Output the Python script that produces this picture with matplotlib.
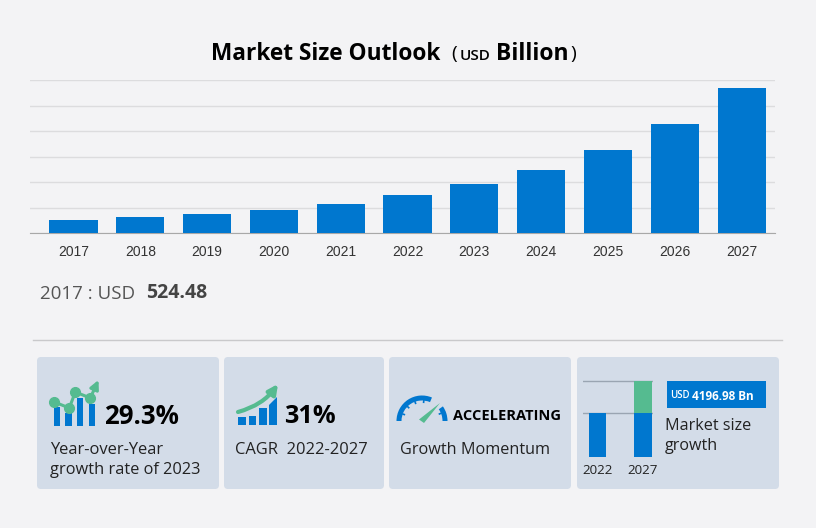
import math
import matplotlib
matplotlib.use("Agg")
import matplotlib.pyplot as plt
from matplotlib.patches import FancyBboxPatch, FancyArrowPatch, Wedge, Polygon

# chart data
years = [2017, 2018, 2019, 2020, 2021, 2022, 2023, 2024, 2025, 2026, 2027]
market_size = [524.48, 615, 733, 902, 1150, 1478, 1911, 2483, 3255, 4275, 5675]

# small chart in the last card (schematic, not to scale with the main one)
mini_years = ["2022", "2027"]
mini_base = [44, 44]
mini_growth = [0, 32]

# icon data
yoy_icon_bars = [19, 13, 28, 22]
yoy_icon_line = [24, 18, 34, 28]
cagr_icon_bars = [7.7, 9.5, 16.7, 20]
gauge_ticks = [200, 225, 250, 275, 338]

W, H = 816, 528
BG = "#f3f3f5"
CARD = "#d3dce8"
BLUE = "#0077cf"
GREEN = "#55bb90"
SANS = "Open Sans"
LABEL = "#222222"

fig = plt.figure(figsize=(W / 100, H / 100), dpi=100, facecolor=BG)


def px_axes(x0, y0, x1, y1, **kw):
    """Axes placed by pixel box, y counted from the top of the image."""
    return fig.add_axes([x0 / W, 1 - y1 / H, (x1 - x0) / W, (y1 - y0) / H], **kw)


# overlay in pixel coordinates for cards, text and icon shapes
ov = px_axes(0, 0, W, H, zorder=0)
ov.set_xlim(0, W)
ov.set_ylim(H, 0)
ov.axis("off")

# main chart
ax = px_axes(30, 80.2, 775, 233.0, zorder=1)
ax.patch.set_alpha(0)
ax.bar(range(len(years)), market_size, width=0.72, color=BLUE, zorder=3)
ax.set_xlim(-0.651, 10.50)
ax.set_ylim(0, 6000)
ax.set_yticks(range(0, 7000, 1000))
ax.set_xticks(range(len(years)))
ax.set_xticklabels(years, fontsize=10, family="Liberation Sans", color="#333333")
ax.tick_params(axis="y", left=False, labelleft=False)
ax.tick_params(axis="x", bottom=False, pad=5)
ax.grid(axis="y", color="#dcdcde", lw=1, zorder=1)
for side in ["top", "left", "right"]:
    ax.spines[side].set_visible(False)
ax.spines["bottom"].set_color("#a8a8a8")

# title
ov.text(211, 53.5, "Market Size Outlook", fontsize=16.3, fontweight="bold", family=SANS,
        color="black", va="center", ha="left")
ov.text(451, 53.5, "(", fontsize=14, family=SANS, color="black", va="center")
ov.text(460, 56, "USD", fontsize=11, family=SANS, fontweight="semibold", color="black", va="center")
ov.text(496, 53.5, "Billion", fontsize=16.5, fontweight="bold", family=SANS, color="black", va="center")
ov.text(570, 53.5, ")", fontsize=14, family=SANS, color="black", va="center")

# first-year readout
ov.text(40, 294, "2017 : USD", fontsize=13.5, family=SANS, color="#555555", va="center")
ov.text(146, 293, "524.48", fontsize=14, fontweight="bold", family=SANS, color="#444444", va="center")
ov.plot([33, 782], [340, 340], color="#c9c9cb", lw=1)

# cards
for x0, x1 in [(37, 219), (224, 384), (389, 571), (577, 779)]:
    ov.add_patch(FancyBboxPatch((x0 + 4, 361), x1 - x0 - 8, 124,
                                boxstyle="round,pad=4,rounding_size=4", fc=CARD, ec="none"))

# card 1
for left, h in zip([54, 65.5, 77, 89], yoy_icon_bars):
    ov.bar(left + 3, h, width=6.5, bottom=426 - h, color=BLUE, zorder=2)
line_x = [54.3, 69.3, 75.3, 90.3]
line_y = [426 - v for v in yoy_icon_line]
ov.plot(line_x, line_y, color=GREEN, lw=2.2, marker="o", ms=7, zorder=3)
ov.add_patch(FancyArrowPatch((line_x[-1], line_y[-1]), (98.5, 380), arrowstyle="-|>",
                             mutation_scale=13, color=GREEN, lw=2.2, shrinkA=0, shrinkB=0, zorder=3))
ov.text(104, 416.5, "29.3%", fontsize=18.6, fontweight="bold", family=SANS, color="black", va="center")
ov.text(50, 450, "Year-over-Year", fontsize=11.9, family=SANS, color=LABEL, va="center")
ov.text(50, 470, "growth rate of 2023", fontsize=11.8, family=SANS, color=LABEL, va="center")

# card 2
for left, h in zip([238, 248.5, 259, 269], cagr_icon_bars):
    ov.bar(left + 3.75, h, width=7.5, bottom=425 - h, color=BLUE, zorder=2)
ov.add_patch(Polygon([(269, 405), (276.5, 405), (276.5, 397)], closed=True, fc=BLUE, ec="none", zorder=2))
ov.add_patch(FancyArrowPatch((238, 412), (278, 384), connectionstyle="arc3,rad=0.18",
                             arrowstyle="-|>", mutation_scale=14, color=GREEN, lw=3,
                             shrinkA=0, shrinkB=0, zorder=3))
ov.text(284, 416.5, "31%", fontsize=18.2, fontweight="bold", family=SANS, color="black", va="center")
ov.text(235, 450, "CAGR  2022-2027", fontsize=11.9, family=SANS, color=LABEL, va="center")

# card 3, gauge icon
ov.add_patch(Wedge((422, 421), 25.5, 180, 293, width=5, fc=BLUE, ec="none"))
ov.add_patch(Wedge((422, 421), 25.5, 325, 360, width=5, fc=BLUE, ec="none"))
for deg in gauge_ticks:
    c, s = math.cos(math.radians(deg)), math.sin(math.radians(deg))
    ov.plot([422 + 21 * c, 422 + 18 * c], [421 + 21 * s, 421 + 18 * s], color=BLUE, lw=1.2,
            solid_capstyle="butt")
ov.add_patch(Polygon([(419, 419.5), (424, 423), (440, 403)], closed=True, fc=GREEN, ec="none"))
ov.text(453, 416.5, "ACCELERATING", fontsize=10.5, fontweight="bold", family=SANS, color="black", va="center")
ov.text(400, 450.5, "Growth Momentum", fontsize=11.7, family=SANS, color=LABEL, va="center")

# card 4, small stacked chart
mini = px_axes(583, 380, 653, 456.7, zorder=2)
mini.patch.set_alpha(0)
mini.bar([0, 1], mini_base, width=0.378, color=BLUE, zorder=3)
mini.bar([0, 1], mini_growth, bottom=mini_base, width=0.378, color=GREEN, zorder=3)
mini.set_xlim(-0.333, 1.222)
mini.set_ylim(0, 76.7)
mini.set_yticks([44, 76])
mini.set_xticks([0, 1])
mini.set_xticklabels(mini_years, fontsize=9.6, family=SANS, color=LABEL)
mini.tick_params(axis="both", length=0, labelleft=False, pad=5.5)
mini.grid(axis="y", color="#9aa5b2", lw=1, zorder=4)
for spine in mini.spines.values():
    spine.set_visible(False)

ov.add_patch(plt.Rectangle((667, 381), 99, 27, fc=BLUE, ec="none", zorder=2))
ov.text(670, 396, "USD", fontsize=7, fontweight="semibold", family=SANS, color="white", va="center", zorder=3)
ov.text(692, 396, "4196.98 Bn", fontsize=8.5, fontweight="bold", family=SANS, color="white", va="center", zorder=3)
ov.text(665, 426, "Market size", fontsize=11.6, family=SANS, color=LABEL, va="center")
ov.text(665, 446, "growth", fontsize=11.6, family=SANS, color=LABEL, va="center")

fig.savefig("out.png", dpi=100, facecolor=BG)
